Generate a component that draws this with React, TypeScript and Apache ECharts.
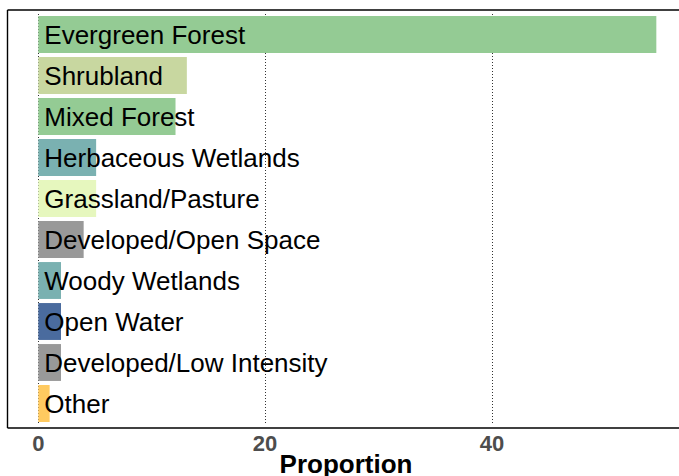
import React, { useEffect, useRef } from "react";
import * as echarts from "echarts";

const categories = [
  "Evergreen Forest",
  "Shrubland",
  "Mixed Forest",
  "Herbaceous Wetlands",
  "Grassland/Pasture",
  "Developed/Open Space",
  "Woody Wetlands",
  "Open Water",
  "Developed/Low Intensity",
  "Other",
];
const proportions = [54.5, 13.1, 12.1, 5.1, 5.1, 4.0, 2.0, 2.0, 2.0, 1.0];
const barColors = [
  "#94CB94",
  "#C8D7A0",
  "#94CB94",
  "#7AB1B1",
  "#E6F7BE",
  "#999999",
  "#7AB1B1",
  "#4A6B9E",
  "#999999",
  "#FFCA60",
];
const xTicks = [0, 20, 40];
const xTitle = "Proportion";

export default function App() {
  const ref = useRef<HTMLDivElement>(null);
  useEffect(() => {
    if (!ref.current) return;
    const chart = echarts.init(ref.current, undefined, { renderer: "svg" });
    const font = "'Liberation Sans', Arial, Helvetica, sans-serif";
    chart.setOption({
      animation: false,
      backgroundColor: "#ffffff",
      grid: { left: 38.3, top: 14, right: 0, height: 410, containLabel: false },
      xAxis: {
        type: "value",
        min: 0,
        max: 56.5,
        interval: 20,
        position: "bottom",
        offset: 4,
        axisLine: { show: false },
        axisTick: { show: false },
        axisLabel: {
          color: "#4D4D4D",
          fontWeight: "bold",
          fontSize: 22,
          fontFamily: font,
          margin: 4,
          showMaxLabel: false,
          formatter: (v: number) => (xTicks.includes(v) ? String(v) : ""),
        },
        splitLine: { show: true, lineStyle: { color: "#333333", type: [1, 2], width: 1 } },
      },
      yAxis: {
        type: "category",
        data: categories,
        inverse: true,
        axisLine: { show: false },
        axisTick: { show: false },
        axisLabel: { show: false },
        splitLine: { show: false },
      },
      series: [
        {
          type: "bar",
          barWidth: "90%",
          data: proportions.map((v, i) => ({ value: v, itemStyle: { color: barColors[i] } })),
          label: {
            show: true,
            position: "insideLeft",
            distance: 6,
            formatter: "{b}",
            color: "#000000",
            fontSize: 26,
            fontFamily: font,
          },
          z: 3,
        },
      ],
      graphic: [
        { type: "line", shape: { x1: 7.5, y1: 10, x2: 679, y2: 10 }, style: { stroke: "#000", lineWidth: 1.4 }, z: 10 },
        { type: "line", shape: { x1: 7.5, y1: 10, x2: 7.5, y2: 428 }, style: { stroke: "#000", lineWidth: 1.4 }, z: 10 },
        { type: "line", shape: { x1: 7.5, y1: 428, x2: 679, y2: 428 }, style: { stroke: "#000", lineWidth: 1.4 }, z: 10 },
        {
          type: "text",
          x: 346,
          y: 464,
          style: {
            text: xTitle,
            fontSize: 26,
            fontWeight: "bold",
            fontFamily: font,
            fill: "#000",
            align: "center",
            verticalAlign: "middle",
          },
        },
      ],
    });
    return () => chart.dispose();
  }, []);
  return (
    <div
      ref={ref}
      style={{ position: "fixed", left: 0, top: 0, width: 679, height: 476 }}
    />
  );
}
